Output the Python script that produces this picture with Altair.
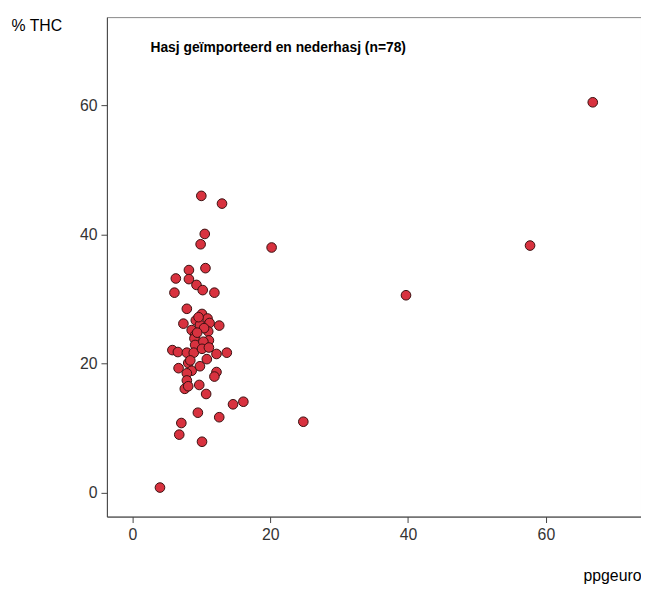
import altair as alt
import pandas as pd

ppgeuro = [4.0, 10.0, 13.0, 10.5, 9.9, 20.2, 10.6, 8.2, 6.3, 8.2, 9.3, 10.2, 11.9, 6.1,
           7.9, 10.1, 9.2, 10.9, 7.4, 9.8, 11.2, 12.6, 8.6, 11.0, 11.1, 9.1, 9.0, 9.1,
           10.3, 5.8, 6.6, 7.9, 8.9, 10.1, 11.1, 12.2, 13.7, 10.8, 8.1, 6.7, 8.6, 9.8,
           12.2, 11.9, 7.9, 7.9, 7.6, 8.1, 9.7, 10.7, 14.6, 16.1, 9.5, 12.6, 7.1, 6.8,
           10.1, 24.8, 39.7, 57.7, 66.8, 9.6, 10.4, 8.4, 9.4]
thc = [0.8, 46.0, 44.8, 40.1, 38.5, 38.0, 34.8, 34.5, 33.2, 33.1, 32.2, 31.4, 31.0, 31.0,
       28.5, 27.7, 26.7, 27.0, 26.2, 26.0, 26.3, 25.9, 25.2, 25.0, 23.6, 24.4, 23.9, 22.9,
       23.4, 22.1, 21.8, 21.7, 21.7, 22.3, 22.5, 21.5, 21.7, 20.7, 20.1, 19.3, 18.9, 19.6,
       18.7, 18.0, 18.5, 17.4, 16.1, 16.5, 16.7, 15.3, 13.7, 14.1, 12.4, 11.7, 10.8, 9.0,
       7.9, 11.0, 30.6, 38.3, 60.5, 27.2, 25.5, 20.5, 24.8]

df = pd.DataFrame({"ppgeuro": ppgeuro, "thc": thc})
font = "Liberation Sans"

points = alt.Chart(df).mark_circle(
    size=95, opacity=1, fill="#d8323f", stroke="#3a1010", strokeWidth=1
).encode(
    x=alt.X("ppgeuro:Q", scale=alt.Scale(domain=[-3.7, 73.8], nice=False, zero=False),
            axis=alt.Axis(values=[0, 20, 40, 60], title="ppgeuro", titleAngle=0,
                          titleX=540, titleY=52, titleAlign="right", titleFontSize=16,
                          titleFontWeight="normal", titleColor="black")),
    y=alt.Y("thc:Q", scale=alt.Scale(domain=[-3.7, 73.7], nice=False, zero=False),
            axis=alt.Axis(values=[0, 20, 40, 60], title="% THC", titleAngle=0,
                          titleX=-97, titleY=9, titleAlign="left", titleBaseline="middle",
                          titleFontSize=16, titleFontWeight="normal", titleColor="black")),
)

label = alt.Chart(pd.DataFrame({"t": ["Hasj geïmporteerd en nederhasj (n=78)"]})).mark_text(
    align="left", baseline="middle", font=font, fontSize=14, fontWeight="bold", color="black"
).encode(x=alt.value(44), y=alt.value(31), text="t:N")

chart = (points + label).properties(
    width=540, height=505, autosize="none",
    padding={"left": 100, "top": 6, "right": 0, "bottom": 71},
).configure_axis(
    grid=False, labelFont=font, titleFont=font, labelFontSize=16, labelColor="#333",
    domainColor="#444", tickColor="#444", tickSize=6, labelPadding=4,
).configure_view(stroke="#888")

chart.save("out.html", embed_options={"renderer": "svg", "actions": False})
